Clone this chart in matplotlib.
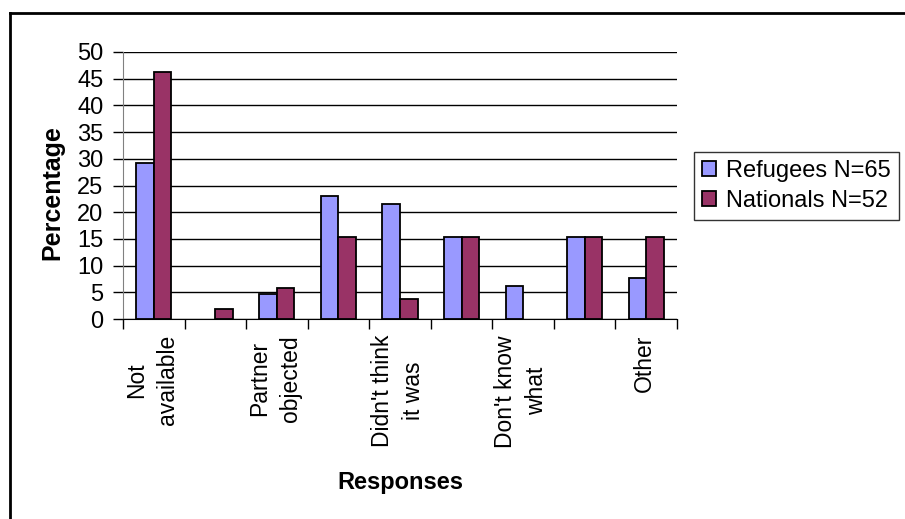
import matplotlib
matplotlib.use("Agg")
import matplotlib.pyplot as plt
import numpy as np
from matplotlib.lines import Line2D

# category labels (Excel skipped every second label)
categories = ["Not\navailable", "", "Partner\nobjected", "", "Didn't think\nit was",
              "", "Don't know\nwhat", "", "Other"]
refugees = [29.2, 0, 4.6, 23.1, 21.5, 15.4, 6.2, 15.4, 7.7]
nationals = [46.2, 1.9, 5.8, 15.4, 3.8, 15.4, 0, 15.4, 15.4]
series_names = ["Refugees N=65", "Nationals N=52"]
y_ticks = [0, 5, 10, 15, 20, 25, 30, 35, 40, 45, 50]

plt.rcParams['font.family'] = ['Liberation Sans', 'DejaVu Sans']

W, H = 905, 519
fig = plt.figure(figsize=(W / 100, H / 100), dpi=100)
ax = fig.add_axes([123 / W, 1 - 319 / H, (677 - 123) / W, (319 - 52) / H])

x = np.arange(len(categories))
bw = 0.285
edges_r = ['black' if v > 0 else 'none' for v in refugees]
edges_n = ['black' if v > 0 else 'none' for v in nationals]
ax.bar(x - bw / 2, refugees, bw, color='#9999FF', edgecolor=edges_r, linewidth=1.3,
       label=series_names[0], zorder=3)
ax.bar(x + bw / 2, nationals, bw, color='#993366', edgecolor=edges_n, linewidth=1.3,
       label=series_names[1], zorder=3)

ax.set_xlim(-0.5, len(categories) - 0.5)
ax.set_ylim(0, 50)
ax.set_yticks(y_ticks)
ax.tick_params(axis='y', labelsize=17, length=7, width=1, direction='out', pad=7)
ax.yaxis.grid(True, color='black', linewidth=1, zorder=0)
ax.set_axisbelow(True)

# ticks between categories, labels at category centres
ax.set_xticks(np.arange(len(categories) + 1) - 0.5)
ax.set_xticklabels([])
ax.tick_params(axis='x', length=7, width=1, direction='out')
for i, lab in enumerate(categories):
    if lab:
        ax.text(i - 0.03, -3.0, lab, rotation=90, ha='center', va='top',
                multialignment='center', fontsize=16.5, linespacing=1.45)

for s in ['top', 'right']:
    ax.spines[s].set_visible(False)
ax.spines['left'].set_color('#808080')
ax.spines['bottom'].set_color('black')

fig.text(400 / W, 1 - 482 / H, "Responses", ha='center', va='center',
         fontsize=17, fontweight='bold')
fig.text(52 / W, 1 - 193 / H, "Percentage", ha='center', va='center',
         rotation=90, fontsize=18, fontweight='bold')

leg = ax.legend(loc='center left', bbox_to_anchor=(694 / W, 1 - 186 / H),
                bbox_transform=fig.transFigure, fontsize=17, frameon=True,
                fancybox=False, edgecolor='black', handlelength=0.6,
                handleheight=0.6, handletextpad=0.4, borderpad=0.35,
                labelspacing=0.35, borderaxespad=0)
leg.get_frame().set_linewidth(1)

# chart border (only top and left visible in the picture)
fig.add_artist(Line2D([9.5 / W, 1], [1 - 13 / H, 1 - 13 / H], color='black',
                      linewidth=2, transform=fig.transFigure))
fig.add_artist(Line2D([9.5 / W, 9.5 / W], [0, 1 - 13 / H], color='black',
                      linewidth=2, transform=fig.transFigure))

fig.savefig("out.png", dpi=100)
